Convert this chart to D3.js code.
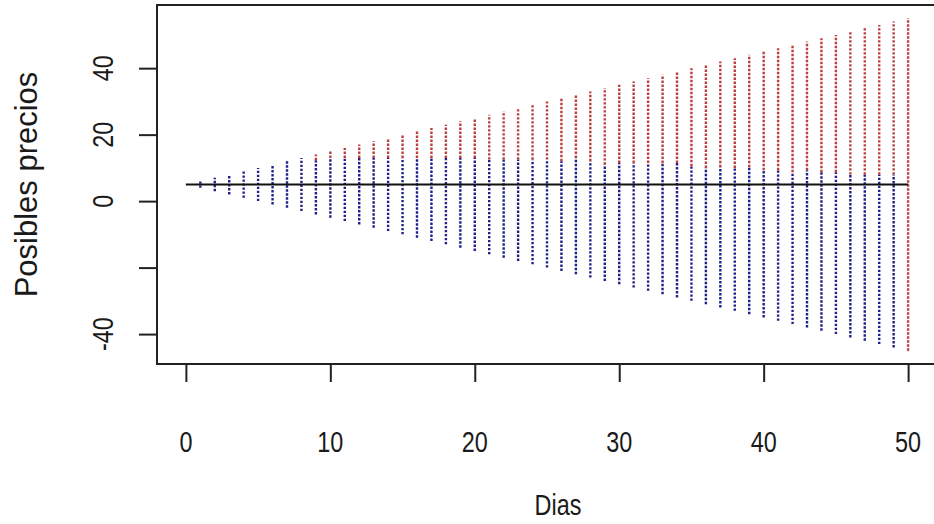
<!DOCTYPE html>
<html>
<head>
<meta charset="utf-8">
<script src="https://cdn.jsdelivr.net/npm/d3@7"></script>
<style>
  html, body { margin: 0; padding: 0; background: #ffffff; }
  svg { display: block; }
  text { font-family: "Liberation Sans", Arial, Helvetica, sans-serif; fill: #1a1a1a; }
</style>
</head>
<body>
<svg id="chart" width="934" height="524"></svg>
<script>
// Days of the tree (0..50)
const days = d3.range(0, 51);
// Starting price and the lowest / highest reachable price on each day
const startPrice = 5;
const lowPrice  = [5,4,3,2,1,0,-1,-2,-3,-4,-5,-6,-7,-8,-9,-10,-11,-12,-13,-14,-15,-16,-17,-18,-19,-20,-21,-22,-23,-24,-25,-26,-27,-28,-29,-30,-31,-32,-33,-34,-35,-36,-37,-38,-39,-40,-41,-42,-43,-44,-45];
const highPrice = [5,6,7,8,9,10,11,12,13,14,15,16,17,18,19,20,21,22,23,24,25,26,27,28,29,30,31,32,33,34,35,36,37,38,39,40,41,42,43,44,45,46,47,48,49,50,51,52,53,54,55];
// Level splitting the lower (blue) part of each day's range from the upper (red) part
const splitPrice = [5,6,7,8,9,10,11,12,13,12.3,13,13,13,13,13,13,13,13,13,13,13,12.5,12.5,12.5,12.5,12.5,12,13,12,11,11.5,11.5,11.5,11.5,11.5,10.5,10,10.2,10,10.2,9.3,9.3,8.7,9.3,8.7,8.7,8,8,8,8,-45];

const xTicks = [0, 10, 20, 30, 40, 50];
const yTicks = [-40, -20, 0, 20, 40];
const yTickLabels = ["-40", "", "0", "20", "40"];

const svg = d3.select("#chart");
const plot = { left: 157, right: 937, top: 5, bottom: 364 };

// Axis ranges padded by 4% on each side
const xPad = (50 - 0) * 0.04;
const yMin = d3.min(lowPrice), yMax = d3.max(highPrice);
const yPad = (yMax - yMin) * 0.04;
const x = d3.scaleLinear().domain([0 - xPad, 50 + xPad]).range([plot.left, plot.right]);
const y = d3.scaleLinear().domain([yMin - yPad, yMax + yPad]).range([plot.bottom, plot.top]);

const blue = "#20208a";
const red = "#bb3f3f";
const dots = "2.4,1.6";
const fontSize = 30;
const squeeze = 0.78;

const marks = svg.append("g");
// Lower part of each day's range
marks.selectAll("line.low").data(days).join("line")
  .attr("class", "low")
  .attr("x1", d => x(d)).attr("x2", d => x(d))
  .attr("y1", d => y(lowPrice[d])).attr("y2", d => y(Math.max(splitPrice[d], lowPrice[d])))
  .attr("stroke", blue).attr("stroke-width", 2.4).attr("stroke-dasharray", dots);
// Upper part of each day's range
marks.selectAll("line.high").data(days.filter(d => highPrice[d] > splitPrice[d])).join("line")
  .attr("class", "high")
  .attr("x1", d => x(d)).attr("x2", d => x(d))
  .attr("y1", d => y(splitPrice[d])).attr("y2", d => y(highPrice[d]))
  .attr("stroke", red).attr("stroke-width", 2.4).attr("stroke-dasharray", dots);

// Starting price held flat across all days
svg.append("line")
  .attr("x1", x(0)).attr("x2", x(50))
  .attr("y1", y(startPrice)).attr("y2", y(startPrice))
  .attr("stroke", "#111").attr("stroke-width", 2);

// Plot frame
svg.append("rect")
  .attr("x", plot.left).attr("y", plot.top)
  .attr("width", plot.right - plot.left).attr("height", plot.bottom - plot.top)
  .attr("fill", "none").attr("stroke", "#222").attr("stroke-width", 2);

// Bottom axis
const xAxis = svg.append("g").attr("transform", `translate(0,${plot.bottom})`)
  .call(d3.axisBottom(x).tickValues(xTicks).tickSize(18).tickFormat(""));
xAxis.select(".domain").remove();
xAxis.selectAll(".tick line").attr("stroke", "#222").attr("stroke-width", 2);
svg.append("g").selectAll("text").data(xTicks).join("text")
  .attr("transform", d => `translate(${x(d)},452) scale(${squeeze},1)`)
  .attr("text-anchor", "middle")
  .attr("font-size", fontSize)
  .text(d => d3.format("d")(d));

// Left axis
const yAxis = svg.append("g").attr("transform", `translate(${plot.left},0)`)
  .call(d3.axisLeft(y).tickValues(yTicks).tickSize(18).tickFormat(""));
yAxis.select(".domain").remove();
yAxis.selectAll(".tick line").attr("stroke", "#222").attr("stroke-width", 2);
svg.append("g").selectAll("text").data(yTicks).join("text")
  .attr("transform", d => `translate(113,${y(d)}) rotate(-90) scale(${squeeze},1)`)
  .attr("text-anchor", "middle")
  .attr("font-size", fontSize)
  .text((d, i) => yTickLabels[i]);

// Axis titles
svg.append("text")
  .attr("transform", `translate(${(plot.left + plot.right) / 2 + 11},515) scale(${squeeze},1)`)
  .attr("text-anchor", "middle").attr("font-size", fontSize)
  .text("Dias");
svg.append("text")
  .attr("transform", `translate(37,${(plot.top + plot.bottom) / 2}) rotate(-90)`)
  .attr("text-anchor", "middle").attr("font-size", 31)
  .text("Posibles precios");
</script>
</body>
</html>
